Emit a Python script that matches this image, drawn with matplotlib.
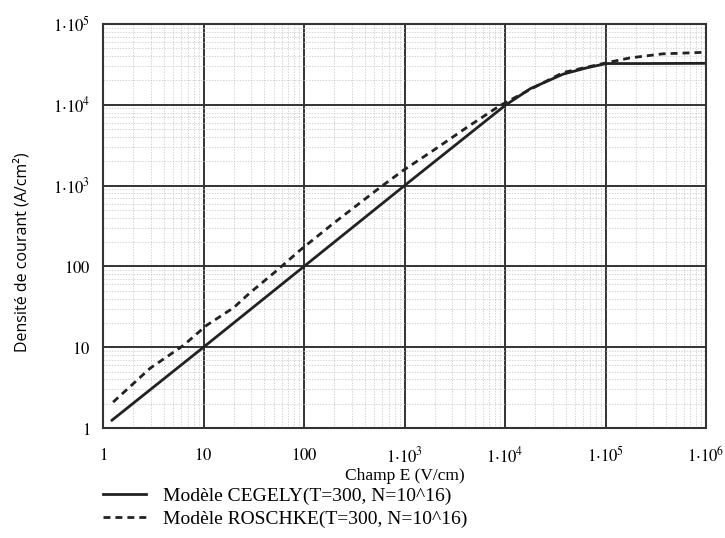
import matplotlib
matplotlib.use("Agg")
import matplotlib.pyplot as plt
from matplotlib.ticker import FixedLocator, NullFormatter, LogLocator

plt.rcParams['mathtext.fontset'] = 'stix'

# Champ E (V/cm) / densite de courant (A/cm2)
e_cegely = [1.23, 10, 100, 1000, 10000, 17800, 38000, 66000, 102000, 220000, 1000000]
j_cegely = [1.25, 10, 100, 1000, 9800, 15800, 24000, 28800, 32400, 32400, 32600]

e_roschke = [1.26, 2.95, 6.3, 10.7, 20, 28.8, 53.7, 91, 195, 575, 977, 1905,
             4170, 8900, 17800, 38000, 102000, 174000, 370000, 1000000]
j_roschke = [2.09, 5.5, 10.5, 18.6, 30.9, 46.8, 89, 158, 339, 955, 1550, 2690,
             5250, 9770, 15500, 25100, 33100, 38000, 42700, 44700]

x_ticks = [1, 10, 100, 1e3, 1e4, 1e5, 1e6]
x_labels = [r"$1$", r"$10$", r"$100$", r"$1{\cdot}10^{3}$", r"$1{\cdot}10^{4}$",
            r"$1{\cdot}10^{5}$", r"$1{\cdot}10^{6}$"]
y_ticks = [1, 10, 100, 1e3, 1e4, 1e5]
y_labels = [r"$1$", r"$10$", r"$100$", r"$1{\cdot}10^{3}$", r"$1{\cdot}10^{4}$", r"$1{\cdot}10^{5}$"]

fig = plt.figure(figsize=(7.25, 5.38), dpi=100)
ax = fig.add_axes([103 / 725, 1 - 428 / 538, 603 / 725, 404 / 538])
ax.set_xscale("log")
ax.set_yscale("log")
ax.set_xlim(1, 1e6)
ax.set_ylim(1, 1e5)

l1, = ax.plot(e_cegely, j_cegely, color="#222222", lw=2.0)
l2, = ax.plot(e_roschke, j_roschke, color="#222222", lw=2.0, linestyle=(0, (2.5, 1.8)))

ax.xaxis.set_major_locator(FixedLocator(x_ticks))
ax.yaxis.set_major_locator(FixedLocator(y_ticks))
ax.xaxis.set_minor_locator(LogLocator(base=10, subs=range(2, 10), numticks=20))
ax.yaxis.set_minor_locator(LogLocator(base=10, subs=range(2, 10), numticks=20))
ax.xaxis.set_minor_formatter(NullFormatter())
ax.yaxis.set_minor_formatter(NullFormatter())
ax.set_xticklabels(x_labels, fontsize=12)
ax.set_yticklabels(y_labels, fontsize=12)
ax.tick_params(which="both", length=0)
ax.tick_params(axis="x", pad=13)
ax.tick_params(axis="y", pad=9)

ax.grid(which="major", color="#333333", lw=1.4)
ax.grid(which="minor", color="#c4c4c4", lw=0.5, linestyle=(0, (2, 2)))
ax.set_axisbelow(True)
for s in ax.spines.values():
    s.set_color("#333333")
    s.set_linewidth(1.5)

ax.set_xlabel("Champ E (V/cm)", fontsize=12.5, family="Liberation Serif")
ax.xaxis.set_label_coords(0.5, -0.1)
ax.set_ylabel("Densité de courant (A/cm²)", fontsize=11.5, family="Open Sans")
ax.yaxis.set_label_coords(-0.121, 0.436)

fig.legend([l1, l2], ["Modèle CEGELY(T=300, N=10^16)", "Modèle ROSCHKE(T=300, N=10^16)"],
           loc="upper left", bbox_to_anchor=(103 / 725, 1 - 487 / 538), frameon=False,
           prop={"family": "Liberation Serif", "size": 14}, handlelength=2.2,
           handletextpad=0.9, labelspacing=0.3, borderpad=0, borderaxespad=0)

fig.savefig("out.png", dpi=100, facecolor="white")
